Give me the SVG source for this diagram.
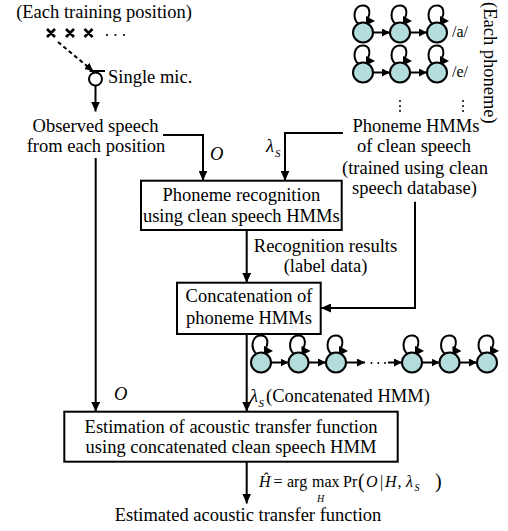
<svg xmlns="http://www.w3.org/2000/svg" xmlns:xlink="http://www.w3.org/1999/xlink" width="508" height="531" viewBox="0 0 508 531">
<style>
.t{font-family:"Liberation Serif","Times New Roman",serif;font-size:18.5px;fill:#000}
.c{text-anchor:middle}
.i{font-style:italic}
.f{font-size:16px}
.ln{stroke:#000;stroke-width:2;fill:none}
.box{fill:#fff;stroke:#000;stroke-width:2}
.st{fill:#b3dcdc;stroke:#000;stroke-width:2}
.dot{fill:#000}
</style>
<defs>
<marker id="ah" markerUnits="userSpaceOnUse" markerWidth="11" markerHeight="9" refX="10" refY="4.5" orient="auto">
<path d="M0,0 L10,4.5 L0,9 z" fill="#000"/>
</marker>
<marker id="as" markerUnits="userSpaceOnUse" markerWidth="9" markerHeight="8" refX="8" refY="4" orient="auto">
<path d="M0,0 L8,4 L0,8 z" fill="#000"/>
</marker>
<g id="state">
<path d="M-5,-9 C-11,-15 -9,-27 0,-27 C7,-27 8,-19 4,-13" class="ln"/>
<polygon points="3,-16.5 12,-11.5 3,-7" fill="#000"/>
<circle r="10" class="st"/>
</g>
</defs>

<g id="connectors">
<line x1="58" y1="42" x2="93" y2="71" class="ln" stroke-dasharray="4 3" marker-end="url(#as)"/>
<line x1="95.5" y1="86" x2="95.5" y2="111.5" class="ln" marker-end="url(#ah)"/>
<path d="M163,135 H203 V180.7" class="ln" marker-end="url(#ah)"/>
<path d="M343,133 H285 V180.7" class="ln" marker-end="url(#ah)"/>
<path d="M246.7,230 V282.7" class="ln" marker-end="url(#ah)"/>
<path d="M415,201.7 V308 H321" class="ln" marker-end="url(#ah)"/>
<path d="M95.7,158 V411.7" class="ln" marker-end="url(#ah)"/>
<path d="M246.7,334 V411.7" class="ln" marker-end="url(#ah)"/>
<path d="M246.7,461.7 V503.5" class="ln" marker-end="url(#ah)"/>
</g>

<g id="training-positions">
<text class="t c" x="104" y="18">(Each training position)</text>
<path d="M47,29 L55,37 M55,29 L47,37 M66,29 L74,37 M74,29 L66,37 M84.5,29 L92.5,37 M92.5,29 L84.5,37" stroke="#000" stroke-width="2.6" fill="none"/>
<circle class="dot" cx="107" cy="35" r="1.1"/>
<circle class="dot" cx="115.5" cy="35" r="1.1"/>
<circle class="dot" cx="124" cy="35" r="1.1"/>
</g>

<g id="mic">
<line x1="89.5" y1="71" x2="105" y2="71" class="ln"/>
<circle cx="95.5" cy="79" r="6.5" fill="#fff" stroke="#000" stroke-width="2"/>
<text class="t" x="108" y="83">Single mic.</text>
</g>

<g id="observed-speech">
<text class="t c" x="95.5" y="131.5">Observed speech</text>
<text class="t c" x="96" y="151.5">from each position</text>
</g>

<g id="phoneme-hmms">
<use xlink:href="#state" x="363" y="32.5"/>
<use xlink:href="#state" x="400" y="32.5"/>
<use xlink:href="#state" x="437" y="32.5"/>
<line x1="373" y1="32.5" x2="390" y2="32.5" class="ln" marker-end="url(#as)"/>
<line x1="410" y1="32.5" x2="427" y2="32.5" class="ln" marker-end="url(#as)"/>
<text class="t" x="452" y="37" style="font-size:16px">/a/</text>
<use xlink:href="#state" x="363" y="72.5"/>
<use xlink:href="#state" x="400" y="72.5"/>
<use xlink:href="#state" x="437" y="72.5"/>
<line x1="373" y1="72.5" x2="390" y2="72.5" class="ln" marker-end="url(#as)"/>
<line x1="410" y1="72.5" x2="427" y2="72.5" class="ln" marker-end="url(#as)"/>
<text class="t" x="452" y="77" style="font-size:16px">/e/</text>
<circle class="dot" cx="400" cy="101" r="1"/>
<circle class="dot" cx="400" cy="106" r="1"/>
<circle class="dot" cx="400" cy="111" r="1"/>
<circle class="dot" cx="463" cy="101" r="1"/>
<circle class="dot" cx="463" cy="106" r="1"/>
<circle class="dot" cx="463" cy="111" r="1"/>
<text class="t" transform="translate(484,2) rotate(90)">(Each phoneme)</text>
<text class="t c" x="416" y="131.5">Phoneme HMMs</text>
<text class="t c" x="414" y="152">of clean speech</text>
<text class="t c" x="415" y="173.5">(trained using clean</text>
<text class="t c" x="414.5" y="194">speech database)</text>
</g>

<g id="phoneme-recognition">
<rect class="box" x="141" y="180.7" width="200.7" height="49.3"/>
<text class="t c" x="241.3" y="200.5">Phoneme recognition</text>
<text class="t c" x="241.3" y="222">using clean speech HMMs</text>
</g>

<g id="recognition-results">
<text class="t c" x="325.5" y="251.5">Recognition results</text>
<text class="t c" x="325.5" y="271.5">(label data)</text>
</g>

<g id="concatenation">
<rect class="box" x="177" y="282.7" width="143.7" height="51.3"/>
<text class="t c" x="249" y="302">Concatenation of</text>
<text class="t c" x="249" y="324">phoneme HMMs</text>
</g>

<g id="concatenated-hmm">
<use xlink:href="#state" x="261" y="362.5"/>
<use xlink:href="#state" x="298.5" y="362.5"/>
<use xlink:href="#state" x="336" y="362.5"/>
<use xlink:href="#state" x="412" y="362.5"/>
<use xlink:href="#state" x="449.5" y="362.5"/>
<use xlink:href="#state" x="487" y="362.5"/>
<line x1="271" y1="362.5" x2="288.5" y2="362.5" class="ln" marker-end="url(#as)"/>
<line x1="308.5" y1="362.5" x2="326" y2="362.5" class="ln" marker-end="url(#as)"/>
<line x1="346" y1="362.5" x2="365" y2="362.5" class="ln" marker-end="url(#as)"/>
<circle class="dot" cx="371.5" cy="363" r="1"/>
<circle class="dot" cx="378.3" cy="363" r="1"/>
<circle class="dot" cx="385" cy="363" r="1"/>
<line x1="388" y1="362.5" x2="402" y2="362.5" class="ln" marker-end="url(#as)"/>
<line x1="422" y1="362.5" x2="439.5" y2="362.5" class="ln" marker-end="url(#as)"/>
<line x1="459.5" y1="362.5" x2="477" y2="362.5" class="ln" marker-end="url(#as)"/>
</g>

<g id="labels">
<text class="t i" x="210" y="160">O</text>
<text class="t i" x="266" y="152">λ<tspan x="275" y="157" style="font-size:11px">S</tspan></text>
<text class="t i" x="114" y="400">O</text>
<text class="t i" x="250" y="402">λ<tspan x="258.5" y="407" style="font-size:11px">S</tspan></text>
<text class="t" x="266" y="402">(Concatenated HMM)</text>
</g>

<g id="estimation">
<rect class="box" x="64.3" y="411.7" width="333.4" height="50"/>
<text class="t c" x="231" y="432.5">Estimation of acoustic transfer function</text>
<text class="t c" x="231" y="452.5">using concatenated clean speech HMM</text>
</g>

<g id="formula">
<text class="t f i" x="259" y="487">Ĥ</text>
<text class="t f" x="273.5" y="487">=</text>
<text class="t f" x="287" y="487">arg</text>
<text class="t f" x="312" y="487">max</text>
<text class="t f" x="343" y="487">Pr</text>
<text class="t" x="358" y="488" style="font-size:20px">(</text>
<text class="t f i" x="366" y="487">O</text>
<text class="t f" x="380" y="487">|</text>
<text class="t f i" x="385" y="487">H</text>
<text class="t f" x="397.5" y="487">,</text>
<text class="t f i" x="406" y="487">λ<tspan x="414.5" y="491" style="font-size:10px">S</tspan></text>
<text class="t" x="435" y="488" style="font-size:20px">)</text>
<text class="t i" x="317" y="502" style="font-size:10px">H</text>
</g>

<g id="output">
<text class="t c" x="248" y="521">Estimated acoustic transfer function</text>
</g>
</svg>
